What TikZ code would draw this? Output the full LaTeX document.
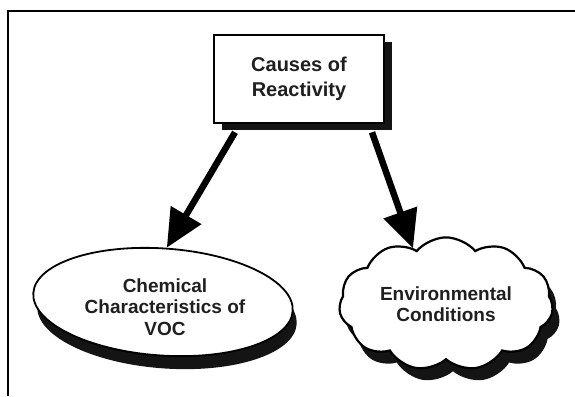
\documentclass[tikz,border=0pt]{standalone}
\usepackage{fontspec}
\setmainfont{Liberation Sans}
\usetikzlibrary{positioning}
\usetikzlibrary{shapes.geometric}
\usetikzlibrary{shapes.symbols}
\usetikzlibrary{shadows}
\usetikzlibrary{arrows.meta}

\begin{document}
\begin{tikzpicture}[%
    x=1pt, y=-1pt,
    boxnode/.style={rectangle, align=center, draw=black, fill=white, line width=2.6pt, minimum width=170pt, minimum height=88pt, text=black!88, font=\bfseries\fontsize{20}{25}\selectfont, drop shadow={shadow xshift=8pt, shadow yshift=-7pt, fill=black!92, opacity=1}},
    ovalnode/.style={ellipse, draw=black, fill=white, line width=1.8pt, minimum width=260pt, minimum height=107pt, drop shadow={shadow xshift=4pt, shadow yshift=-13pt, fill=black!92, opacity=1}},
    cloudnode/.style={cloud, cloud puffs=11, cloud puff arc=100, aspect=1.75, align=center, draw=black, fill=white, line width=2.2pt, minimum width=214pt, minimum height=122pt, text=black!88, font=\bfseries\fontsize{19}{20.5}\selectfont, drop shadow={shadow xshift=7pt, shadow yshift=-12pt, fill=black!92, opacity=1}},
    textnode/.style={align=center, text=black!88, font=\bfseries\fontsize{19}{21.5}\selectfont},
    bigarrow/.style={line width=6.5pt, -{Triangle[length=38pt, width=34pt]}}
]
\useasboundingbox (0,0) rectangle (575,396);

% Frame
\draw[line width=1.5pt] (8,396) -- (8,11) -- (575,11);

% Top node
\node[boxnode]      (causes)    at (299,79)   {Causes of\\Reactivity};

% Chemical node
\node[ovalnode, rotate=-4] (chemoval) at (163,302) {};
\node[textnode]     (chem)      at (165,307)  {Chemical\\Characteristics of\\VOC};

% Environmental node
\node[cloudnode]    (env)       at (446,304)  {Environmental\\Conditions};

% Arrows
\draw[bigarrow] ([xshift=-64pt, yshift=-8pt]causes.south) -- (chemoval.north);
\draw[bigarrow] ([xshift=73pt, yshift=-8pt]causes.south) -- ([xshift=-33pt, yshift=-12pt]env.north);

\end{tikzpicture}
\end{document}
